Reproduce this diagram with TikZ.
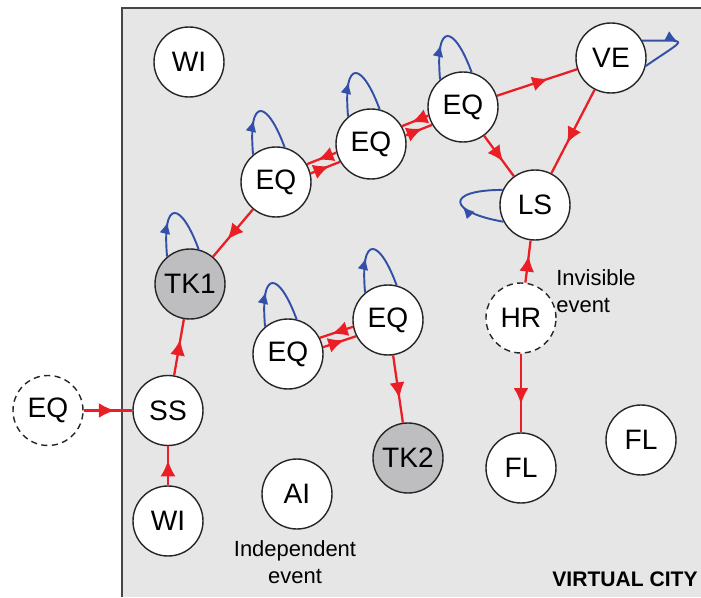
\documentclass[tikz,border=0pt]{standalone}
\usepackage{fontspec}
\setmainfont{Liberation Sans}
\usepackage{tikz}
\usetikzlibrary{arrows.meta,decorations.markings}

\definecolor{cityback}{RGB}{230,230,230}
\definecolor{cityline}{RGB}{70,70,70}
\definecolor{tankgray}{RGB}{190,190,192}
\definecolor{causered}{RGB}{234,30,37}
\definecolor{loopblue}{RGB}{50,80,168}

\begin{document}
\begin{tikzpicture}[>=Latex,
		event/.style={circle, draw=black!85, line width=0.8pt, fill=white, minimum size=1.4cm, inner sep=0pt, font=\fontsize{16}{18}\selectfont},
		hidden/.style={event, dash pattern=on 3.5pt off 2.5pt},
		tank/.style={event, fill=tankgray},
		cause/.style={draw=causered, line width=1.3pt, postaction={decorate},
			decoration={markings, mark=at position 0.64 with {\arrow[causered]{Latex[length=3.2mm,width=3mm]}}}},
		selfloop/.style={draw=loopblue, line width=1.1pt, postaction={decorate},
			decoration={markings, mark=at position #1 with {\arrow[loopblue]{Latex[length=2.4mm,width=2.2mm]}}}},
		selfloop/.default=0.38,
		note/.style={inner sep=0pt, align=center, font=\fontsize{12.5}{15.5}\selectfont}]
		\useasboundingbox (0,0) rectangle (14.02,11.94);

		% City area
		\fill[cityback] (2.44,0) rectangle (14.02,11.78);
		\draw[cityline, line width=0.8pt] (2.44,0) |- (14.02,11.78);

		% Events
		\node[event] (wiA) at (3.78,10.70) {WI};
		\node[event] (eqA) at (5.52,8.30) {EQ};
		\node[event] (eqB) at (7.42,9.06) {EQ};
		\node[event] (eqC) at (9.26,9.80) {EQ};
		\node[event] (ve) at (12.22,10.78) {VE};
		\node[event] (ls) at (10.70,7.84) {LS};
		\node[tank] (tk1) at (3.80,6.26) {TK1};
		\node[event] (eqD) at (5.76,4.86) {EQ};
		\node[event] (eqE) at (7.76,5.54) {EQ};
		\node[hidden] (hr) at (10.42,5.58) {HR};
		\node[hidden] (eqX) at (0.96,3.73) {EQ};
		\node[event] (ss) at (3.36,3.73) {SS};
		\node[event] (wiB) at (3.36,1.52) {WI};
		\node[event] (ai) at (5.94,2.06) {AI};
		\node[tank] (tk2) at (8.16,2.78) {TK2};
		\node[event] (flA) at (10.42,2.58) {FL};
		\node[event] (flB) at (12.82,3.14) {FL};

		% Labels
		\node[note] (indep) at (5.90,0.70) {Independent\\event};
		\node[note, anchor=west, align=left] (invis) at (11.12,6.12) {Invisible\\event};
		\node[inner sep=0pt, anchor=east, font=\fontsize{12}{14}\selectfont\bfseries] (city) at (13.96,0.36) {VIRTUAL CITY};

		% Causal links
		\draw[cause] (eqX) -- (ss);
		\draw[cause] (wiB) -- (ss);
		\draw[cause] (ss) -- (tk1);
		\draw[cause] (eqA) -- (tk1);
		\draw[cause] (eqB.194) -- (eqA.30);
		\draw[cause] (eqA.14) -- (eqB.210);
		\draw[cause] (eqC.194) -- (eqB.30);
		\draw[cause] (eqB.14) -- (eqC.210);
		\draw[cause] (eqC) -- (ve);
		\draw[cause] (eqC) -- (ls);
		\draw[cause] (ve) -- (ls);
		\draw[cause] (hr) -- (ls);
		\draw[cause] (hr) -- (flA);
		\draw[cause] (eqE.191) -- (eqD.27);
		\draw[cause] (eqD.11) -- (eqE.207);
		\draw[cause] (eqE) -- (tk2);

		% Repeating events
		\draw[selfloop] (eqA.130) .. controls +(95:1.2) and +(110:1.0) .. (eqA.76);
		\draw[selfloop] (eqB.130) .. controls +(95:1.2) and +(110:1.0) .. (eqB.76);
		\draw[selfloop] (eqC.130) .. controls +(95:1.2) and +(110:1.0) .. (eqC.76);
		\draw[selfloop] (tk1.130) .. controls +(95:1.2) and +(110:1.0) .. (tk1.76);
		\draw[selfloop] (eqD.130) .. controls +(95:1.2) and +(110:1.0) .. (eqD.76);
		\draw[selfloop] (eqE.130) .. controls +(95:1.2) and +(110:1.0) .. (eqE.76);
		\draw[selfloop=0.46] (ve.29) .. controls +(0:1.0) and +(35:1.0) .. (ve.-13);
		\draw[selfloop=0.46] (ls.208) .. controls +(170:1.15) and +(180:1.15) .. (ls.155);
\end{tikzpicture}
\end{document}
